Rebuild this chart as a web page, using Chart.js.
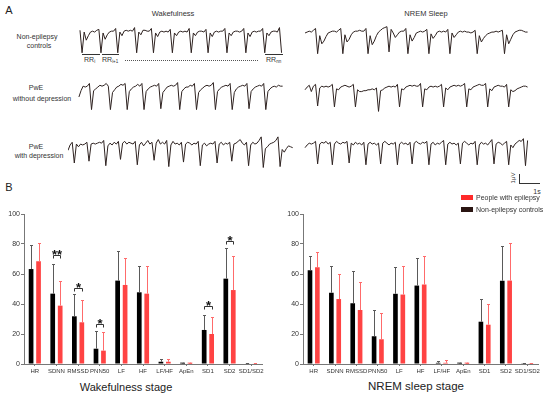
<!DOCTYPE html>
<html>
<head>
<meta charset="utf-8">
<script src="https://cdn.jsdelivr.net/npm/chart.js@4.4.0/dist/chart.umd.min.js"></script>
<style>
  html, body { margin: 0; padding: 0; background: #fff; }
  #fig { position: relative; width: 550px; height: 396px; overflow: hidden;
         font-family: Arial, "Liberation Sans", sans-serif; color: #333; }
  canvas { position: absolute; }
  .t { position: absolute; white-space: nowrap; transform: translate(-50%, -50%); line-height: 1; }
  .l { position: absolute; white-space: nowrap; line-height: 1; }
  .hl { position: absolute; height: 0; border-top: 1px solid #333; }
  .lab { font-size: 7px; color: #333; }
  sub { font-size: 4.5px; vertical-align: -1px; }
</style>
</head>
<body>
<div id="fig">
  <!-- panel A text -->
  <div class="t" style="left:9px;top:10px;font-size:11px;color:#222">A</div>
  <div class="t lab" style="left:173px;top:14px;font-size:7.5px">Wakefulness</div>
  <div class="t lab" style="left:426px;top:14px;font-size:7.5px">NREM Sleep</div>
  <div class="t lab" style="left:37px;top:36px">Non-epilepsy</div>
  <div class="t lab" style="left:39px;top:45px">controls</div>
  <div class="t lab" style="left:36px;top:87px">PwE</div>
  <div class="t lab" style="left:42px;top:98px">without depression</div>
  <div class="t lab" style="left:36px;top:146px">PwE</div>
  <div class="t lab" style="left:39px;top:155px">with depression</div>

  <!-- RR interval marks -->
  <div class="hl" style="left:82px;top:54px;width:18px"></div>
  <div class="hl" style="left:102px;top:54px;width:17px"></div>
  <div class="hl" style="left:125px;top:60px;width:133px;border-top:1px dotted #555"></div>
  <div class="hl" style="left:265px;top:54px;width:18px"></div>
  <div class="l lab" style="left:84px;top:56px">RR<sub>i</sub></div>
  <div class="l lab" style="left:102px;top:56px">RR<sub>i+1</sub></div>
  <div class="l lab" style="left:266px;top:56px">RR<sub>nn</sub></div>

  <!-- scale bar -->
  <div style="position:absolute;left:519px;top:174px;width:0;height:9px;border-left:1px solid #333"></div>
  <div class="hl" style="left:519px;top:183px;width:21px"></div>
  <div class="t lab" style="left:513px;top:178px;font-size:6px;transform:translate(-50%,-50%) rotate(-90deg)">1μV</div>
  <div class="t lab" style="left:537px;top:191px">1s</div>

  <canvas id="wCtrl" width="227" height="40" style="left:68px;top:20px"></canvas>
  <canvas id="sCtrl" width="232" height="40" style="left:300px;top:20px"></canvas>
  <canvas id="wNoDep" width="227" height="40" style="left:68px;top:75px"></canvas>
  <canvas id="sNoDep" width="232" height="40" style="left:300px;top:75px"></canvas>
  <canvas id="wDep" width="227" height="40" style="left:68px;top:132px"></canvas>
  <canvas id="sDep" width="232" height="40" style="left:300px;top:132px"></canvas>

  <!-- panel B -->
  <div class="t" style="left:9px;top:187px;font-size:11px;color:#222">B</div>
  <canvas id="wakeBars" width="275" height="180" style="left:0;top:200px"></canvas>
  <canvas id="sleepBars" width="275" height="180" style="left:275px;top:200px"></canvas>
  <div class="t" style="left:126px;top:387px;font-size:11px;color:#222">Wakefulness stage</div>
  <div class="t" style="left:416px;top:387px;font-size:11.5px;color:#222">NREM sleep stage</div>

  <div style="position:absolute;left:461px;top:195px;width:12px;height:5px;background:#ff2a2a"></div>
  <div class="l lab" style="left:476px;top:194px">People with epilepsy</div>
  <div style="position:absolute;left:461px;top:207px;width:12px;height:5px;background:#2a1512"></div>
  <div class="l lab" style="left:476px;top:206px">Non-epilepsy controls</div>
</div>

<script>
// ---- panel A: ECG samples (μV), one value every 0.1 s ----
const sampleStep = 0.1;

const wakeCtrlTrace = [0.3, -2.2, 0.1, -0.8, -0.3, 0.1, 0.2, 0.1, 0.3, 0.4,
  -2.2, 0.0, -0.7, -0.2, 0.1, 0.2, 0.2, 0.5, -2.2, 0.1,
  -0.3, 0.2, 0.3, 0.2, 0.3, 0.2, 0.6, -2.2, 0.1, -0.2,
  0.3, 0.3, 0.2, 0.2, 0.5, -2.2, 0.0, -0.4, 0.1, 0.2,
  0.1, 0.2, 0.1, 0.4, -2.2, 0.0, -0.3, 0.1, 0.2, 0.1,
  0.2, 0.1, 0.5, -2.2, 0.0, -0.3, 0.1, 0.2, 0.2, 0.1,
  0.4, -2.2, 0.0, -0.4, 0.1, 0.2, 0.1, 0.2, 0.2, 0.5,
  -2.2, 0.0, -0.3, 0.1, 0.2, 0.2, 0.1, 0.2, 0.5, -2.2,
  0.0, -0.4, 0.1, 0.2, 0.1, 0.2, 0.2, 0.5, -2.2, 0.0,
  -0.3, 0.1, 0.2, 0.2, 0.1, 0.6, -2.2];

const sleepCtrlTrace = [0.0, 0.1, 0.2, 0.1, 0.3, 0.5, -2.3, -0.3, -1.2, -0.9,
  -0.4, 0.0, 0.1, 0.2, 0.2, 0.1, 0.3, 0.5, -2.3, -0.2,
  -1.0, -0.7, -0.2, 0.1, 0.2, 0.2, 0.3, 0.2, 0.2, 0.5,
  -2.3, -0.3, -1.3, -0.9, -0.3, 0.1, 0.3, 0.5, 0.6, 0.7,
  -2.1, 0.4, 0.0, -0.5, -0.2, 0.1, 0.2, 0.2, 0.5, -2.3,
  -0.2, -0.9, -0.5, 0.0, 0.1, 0.2, 0.1, 0.2, 0.4, -2.3,
  -0.1, -0.6, -0.3, 0.1, 0.2, 0.1, 0.2, 0.1, 0.4, -2.3,
  0.0, -0.5, -0.2, 0.1, 0.2, 0.1, 0.2, 0.1, 0.1, 0.0,
  0.1, 0.3, -2.3, -0.3, -1.0, -0.6, -0.3, -0.1, 0.0, 0.1,
  0.1, 0.2, 0.1, 0.2, 0.3, -2.3, -0.2, -1.2, -0.7, -0.2,
  0.1, 0.2, 0.3, 0.3, 0.2, 0.1, 0.1];

const wakeNoDepTrace = [-1.0, -0.3, 0.2, 0.1, 0.2, 0.5, -2.4, -0.3, -0.1, 0.1,
  0.3, 0.2, 0.3, 0.5, 0.2, -2.4, -0.5, -0.2, 0.1, 0.2,
  0.4, 0.3, 0.5, -2.4, -0.4, -0.1, 0.1, 0.2, 0.4, 0.2,
  0.5, -2.4, -0.4, -0.1, 0.1, 0.2, 0.3, 0.2, 0.5, -2.3,
  -0.5, -0.2, 0.1, 0.2, 0.3, 0.2, 0.3, 0.6, -2.4, -0.4,
  -0.1, 0.1, 0.1, 0.3, 0.2, 0.5, -2.4, -0.5, -0.2, 0.0,
  0.2, 0.3, 0.2, 0.3, 0.6, -2.4, -0.4, -0.1, 0.1, 0.2,
  0.3, 0.2, 0.5, -2.4, -0.5, -0.1, 0.1, 0.2, 0.3, 0.2,
  0.5, -2.3, -0.4, -0.1, 0.1, 0.2, 0.3, 0.2, 0.5, -2.4,
  -0.4, -0.1, 0.1, 0.2, 0.1, 0.3, 0.2, 0.2];

const sleepNoDepTrace = [-0.2, 0.1, 0.3, -0.4, 0.2, 0.4, -2.0, 0.0, 0.2, 0.1,
  0.2, 0.1, 0.2, 0.4, -2.1, -0.1, -0.2, 0.1, 0.2, 0.3,
  0.2, 0.1, 0.2, 0.4, -2.1, -0.2, -0.4, -0.4, -0.3, -0.3,
  -0.2, -0.2, -0.1, -0.2, 0.0, -2.6, -0.3, -0.2, 0.0, 0.1,
  0.2, 0.1, 0.2, 0.1, 0.4, -2.1, -0.1, -0.2, 0.1, 0.2,
  0.3, 0.2, 0.3, 0.2, 0.2, 0.5, -2.1, -0.1, -0.2, 0.1,
  0.2, 0.1, 0.2, 0.1, 0.2, 0.4, -2.1, 0.0, -0.2, 0.1,
  0.2, 0.3, 0.2, 0.3, 0.2, 0.3, 0.5, -2.1, -0.1, -0.2,
  0.1, 0.2, 0.3, 0.4, 0.3, 0.3, 0.5, -2.1, -0.1, -0.3,
  0.1, 0.2, 0.3, 0.2, 0.2, 0.1, 0.4, -2.1, -0.2, -0.4,
  -0.3, -0.1, 0.0, 0.1, 0.2, 0.2, 0.1];

const wakeDepTrace = [-0.6, 0.0, 0.3, -2.0, 0.1, -0.2, 0.1, 0.0, 0.1, 0.3,
  -1.8, 0.1, 0.2, 0.1, 0.2, 0.3, 0.2, 0.5, -2.3, -0.1,
  0.2, 0.0, 0.3, 0.1, 0.4, -1.6, 0.2, 0.4, 0.1, 0.3,
  0.2, 0.1, 0.4, -2.2, 0.0, 0.3, -0.1, 0.2, 0.5, 0.1,
  0.3, -1.7, 0.2, 0.6, 0.1, 0.3, 0.1, 0.5, -2.4, 0.0,
  0.4, 0.1, 0.2, 0.0, 0.3, -1.9, 0.1, 0.3, 0.2, 0.0,
  0.2, 0.1, 0.4, -2.3, 0.0, 0.2, -0.1, 0.1, 0.2, 0.1,
  0.4, -2.0, 0.1, 0.3, 0.0, 0.2, 0.1, 0.3, -1.8, 0.1,
  0.2, 0.4, 0.6, 0.2, 0.0, 0.3, -2.3, 0.0, 0.3, 0.1,
  0.2, 0.5, 0.9, -2.5, -0.4, -0.2, 0.1, 0.2, 0.3, 0.5,
  0.9, -2.4, -0.5, -0.8, -0.4, -0.1, -0.2, -0.3];

const sleepDepTrace = [-0.3, 0.0, 0.2, 0.1, 0.2, 0.4, -2.1, 0.1, 0.3, 0.2,
  0.4, 0.1, 0.3, -2.2, 0.1, 0.4, 0.2, 0.1, 0.3, 0.2,
  0.4, -2.0, 0.2, 0.0, 0.3, 0.1, 0.2, 0.0, 0.3, -2.2,
  0.1, 0.3, 0.1, 0.2, 0.0, 0.2, -2.1, 0.2, 0.4, 0.2,
  0.0, 0.2, 0.1, 0.3, -2.2, 0.1, 0.3, 0.1, 0.2, 0.0,
  0.3, -2.1, 0.2, 0.4, 0.2, 0.1, 0.3, 0.2, 0.4, -2.2,
  0.1, 0.3, 0.0, 0.2, 0.1, 0.3, 0.5, -2.2, 0.1, 0.3,
  0.1, 0.2, 0.0, 0.2, -2.1, 0.2, 0.4, 0.2, 0.0, 0.2,
  0.1, 0.4, -2.2, 0.0, 0.3, 0.1, 0.2, 0.0, 0.3, 0.6,
  -2.1, 0.1, 0.3, 0.2, 0.0, 0.2, 0.4, -2.2, 0.0, -0.3,
  0.1, 0.3, 0.5, 0.4, 0.7, -2.3, 0.5];

// ---- panel B: HRV parameters, mean and SD ----
const hrvLabels = ['HR', 'SDNN', 'RMSSD', 'PNN50', 'LF', 'HF', 'LF/HF', 'ApEn', 'SD1', 'SD2', 'SD1/SD2'];

const wakeCtrl   = [63.3, 46.9, 31.8, 10.2, 55.6, 47.8, 1.5, 0.9, 22.7, 56.9, 0.4];
const wakeCtrlSd = [15.7, 20.0, 15.1, 11.6, 19.7, 17.5, 1.8, 0.1, 10.2, 20.4, 0.1];
const wakePwe    = [68.5, 38.9, 27.8, 8.9, 52.7, 46.9, 1.5, 0.9, 20.0, 49.3, 0.4];
const wakePweSd  = [12.0, 16.7, 14.6, 12.4, 18.2, 18.4, 2.0, 0.1, 11.5, 22.5, 0.1];

const sleepCtrl   = [62.5, 47.5, 40.5, 18.5, 46.8, 52.3, 0.8, 0.9, 28.2, 55.5, 0.5];
const sleepCtrlSd = [9.5, 18.0, 21.5, 17.5, 18.0, 18.2, 1.4, 0.1, 15.3, 23.0, 0.1];
const sleepPwe    = [64.5, 43.3, 36.0, 16.5, 46.3, 53.0, 0.8, 0.9, 26.2, 55.6, 0.5];
const sleepPweSd  = [10.5, 17.0, 19.0, 17.5, 18.9, 19.0, 1.7, 0.1, 14.1, 24.9, 0.1];

// significance marks (wakefulness only)
const sigCats   = [1, 2, 3, 8, 9];
const sigMarks  = ['**', '*', '*', '*', '*'];
const sigLevels = [73, 51, 27, 39, 82];

const yTicks = [0, 20, 40, 60, 80, 100];

Chart.defaults.font.family = 'Arial, "Liberation Sans", sans-serif';

function drawTrace(id, values, t0, tMax) {
  const pts = values.map((v, i) => ({ x: t0 + i * sampleStep, y: v }));
  new Chart(document.getElementById(id), {
    type: 'line',
    data: { datasets: [{ data: pts, borderColor: '#2e2220', borderWidth: 1, pointRadius: 0, tension: 0 }] },
    options: {
      responsive: false, animation: false,
      layout: { padding: 0 },
      plugins: { legend: { display: false }, tooltip: { enabled: false } },
      scales: {
        x: { type: 'linear', min: 0, max: tMax, display: false },
        y: { min: -3, max: 1.44, display: false }
      }
    }
  });
}

drawTrace('wCtrl', wakeCtrlTrace, 0.57, 10.81);
drawTrace('sCtrl', sleepCtrlTrace, 0.24, 11.05);
drawTrace('wNoDep', wakeNoDepTrace, 0.52, 10.81);
drawTrace('sNoDep', sleepNoDepTrace, 0.24, 11.05);
drawTrace('wDep', wakeDepTrace, 0.0, 10.81);
drawTrace('sDep', sleepDepTrace, 0.24, 11.05);

const errorBars = {
  id: 'errorBars',
  afterDatasetsDraw(chart) {
    const ctx = chart.ctx, ys = chart.scales.y;
    chart.data.datasets.forEach((ds, d) => {
      const meta = chart.getDatasetMeta(d);
      ctx.save();
      ctx.strokeStyle = ds.errColor;
      ctx.lineWidth = 1;
      meta.data.forEach((bar, i) => {
        const top = Math.round(ys.getPixelForValue(ds.data[i] + ds.errors[i])) + 0.5;
        const x = Math.round(bar.x) + 0.5;
        ctx.beginPath();
        ctx.moveTo(x, bar.y);
        ctx.lineTo(x, top);
        ctx.moveTo(x - 1.5, top);
        ctx.lineTo(x + 1.5, top);
        ctx.stroke();
      });
      ctx.restore();
    });
  }
};

function sigPlugin(cats, marks, levels) {
  return {
    id: 'sigBrackets',
    afterDatasetsDraw(chart) {
      const ctx = chart.ctx, ys = chart.scales.y;
      const m0 = chart.getDatasetMeta(0), m1 = chart.getDatasetMeta(1);
      ctx.save();
      ctx.strokeStyle = '#333';
      ctx.fillStyle = '#111';
      ctx.lineWidth = 1;
      ctx.font = 'bold 13px Arial, "Liberation Sans", sans-serif';
      ctx.textAlign = 'center';
      ctx.textBaseline = 'alphabetic';
      cats.forEach((c, k) => {
        const x0 = Math.round(m0.data[c].x) + 0.5;
        const x1 = Math.round(m1.data[c].x) + 0.5;
        const y = Math.round(ys.getPixelForValue(levels[k])) + 0.5;
        ctx.beginPath();
        ctx.moveTo(x0, y + 3);
        ctx.lineTo(x0, y);
        ctx.lineTo(x1, y);
        ctx.lineTo(x1, y + 3);
        ctx.stroke();
        ctx.fillText(marks[k], (x0 + x1) / 2, y + 3);
      });
      ctx.restore();
    }
  };
}

function hrvChart(id, ctrl, ctrlSd, pwe, pweSd, axisWidth, padRight, extra) {
  return new Chart(document.getElementById(id), {
    type: 'bar',
    data: {
      labels: hrvLabels,
      datasets: [
        { label: 'Non-epilepsy controls', data: ctrl, errors: ctrlSd, errColor: '#5a5a5a',
          backgroundColor: '#000000', barPercentage: 0.63, categoryPercentage: 0.69 },
        { label: 'People with epilepsy', data: pwe, errors: pweSd, errColor: '#ff6b6b',
          backgroundColor: '#ff4343', barPercentage: 0.63, categoryPercentage: 0.69 }
      ]
    },
    options: {
      responsive: false, animation: false,
      layout: { padding: { top: 14, right: padRight, left: 0, bottom: 0 } },
      plugins: { legend: { display: false }, tooltip: { enabled: false } },
      scales: {
        x: {
          afterFit: s => { s.height = 16; },
          grid: { offset: false, drawOnChartArea: false, tickLength: 2, color: '#777' },
          border: { color: '#777' },
          ticks: { autoSkip: false, maxRotation: 0, minRotation: 0, padding: 2, color: '#333', font: { size: 6 } }
        },
        y: {
          min: 0, max: 100,
          afterFit: s => { s.width = axisWidth; },
          afterBuildTicks: s => { s.ticks = yTicks.map(v => ({ value: v })); },
          grid: { drawOnChartArea: false, tickLength: 3, color: '#777' },
          border: { color: '#777' },
          ticks: { padding: 1, color: '#333', font: { size: 7 } }
        }
      }
    },
    plugins: [errorBars].concat(extra || [])
  });
}

hrvChart('wakeBars', wakeCtrl, wakeCtrlSd, wakePwe, wakePweSd, 24, 13,
  [sigPlugin(sigCats, sigMarks, sigLevels)]);
hrvChart('sleepBars', sleepCtrl, sleepCtrlSd, sleepPwe, sleepPweSd, 28, 12);
</script>
</body>
</html>
